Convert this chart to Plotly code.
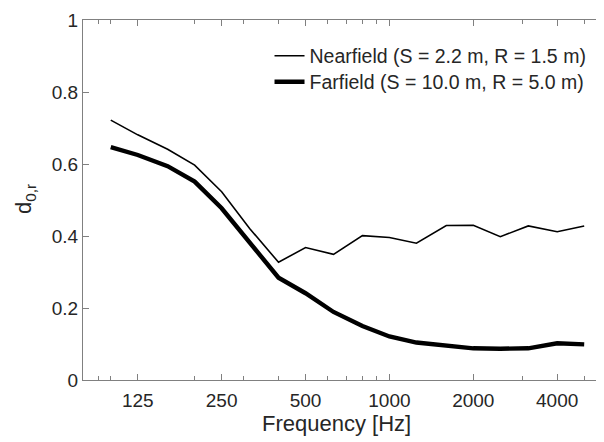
import plotly.graph_objects as go
import math

freqs = [100, 125, 160, 200, 250, 315, 400, 500, 630, 800, 1000, 1250, 1600, 2000, 2500, 3150, 4000, 5000]
nearfield = [0.722, 0.681, 0.641, 0.597, 0.523, 0.421, 0.327, 0.368, 0.349, 0.401, 0.396, 0.380, 0.429, 0.430, 0.398, 0.428, 0.412, 0.428]
farfield = [0.647, 0.625, 0.594, 0.551, 0.477, 0.384, 0.284, 0.241, 0.189, 0.150, 0.121, 0.104, 0.094, 0.088, 0.087, 0.088, 0.102, 0.099]

xtick_vals = [125, 250, 500, 1000, 2000, 4000]
xtick_text = ["125", "250", "500", "1000", "2000", "4000"]
xminor_vals = [90, 100, 200, 300, 400, 600, 700, 800, 900, 3000, 5000]
ytick_vals = [0, 0.2, 0.4, 0.6, 0.8, 1]
ytick_text = ["0", "0.2", "0.4", "0.6", "0.8", "1"]

FONT = "Liberation Sans, Arial, sans-serif"
TXT = "#262626"
AX = "#808080"

# page body has an 8px margin, so the figure is drawn 8px right and down
OFF = 8

fig = go.Figure()
fig.add_trace(go.Scatter(x=freqs, y=nearfield, mode="lines", name="Nearfield (S = 2.2 m, R = 1.5 m)",
                         line=dict(color="black", width=1.6), legend="legend"))
fig.add_trace(go.Scatter(x=freqs, y=farfield, mode="lines", name="Farfield (S = 10.0 m, R = 5.0 m)",
                         line=dict(color="black", width=4.4), legend="legend2"))

leg_common = dict(xanchor="left", yanchor="middle", bgcolor="rgba(0,0,0,0)",
                  font=dict(size=19.5, color=TXT, family=FONT))

fig.update_layout(
    width=604 - OFF, height=442 - OFF,
    margin=dict(l=83 - OFF, r=0, t=20 - OFF, b=62),
    paper_bgcolor="white", plot_bgcolor="white",
    font=dict(family=FONT, color=TXT, size=19),
    showlegend=True,
    legend=dict(x=0.358, y=(380 - 56) / 360, **leg_common),
    legend2=dict(x=0.358, y=(380 - 82) / 360, **leg_common),
    xaxis=dict(type="log", range=[math.log10(79.5), math.log10(5889)], automargin=False,
               tickvals=xtick_vals, ticktext=xtick_text, ticks="inside", ticklen=6, tickwidth=1,
               tickcolor=AX, showline=True, linecolor=AX, linewidth=1.3, mirror="ticks",
               showgrid=False, zeroline=False, tickfont=dict(size=19, color=TXT),
               ticklabelstandoff=3,
               minor=dict(tickvals=xminor_vals, ticks="inside", ticklen=4, tickwidth=1, tickcolor=AX, showgrid=False)),
    yaxis=dict(range=[0, 1], tickvals=ytick_vals, ticktext=ytick_text, ticks="inside", ticklen=6,
               tickcolor=AX, showline=True, linecolor=AX, linewidth=1.3, showgrid=False, zeroline=False,
               tickfont=dict(size=19, color=TXT), automargin=False),
)

fig.add_annotation(text="Frequency [Hz]", xref="paper", yref="paper", x=(336 - 83) / 521, y=-0.08,
                   xanchor="center", yanchor="top", showarrow=False, font=dict(size=22, color=TXT, family=FONT))
fig.add_annotation(text="d<sub>0,r</sub>", xref="paper", yref="paper", x=(25 - 83) / 521, y=(380 - 199) / 360,
                   xanchor="center", yanchor="middle", textangle=-90, showarrow=False,
                   font=dict(size=22, color=TXT, family=FONT))

fig.write_html("out.html")
